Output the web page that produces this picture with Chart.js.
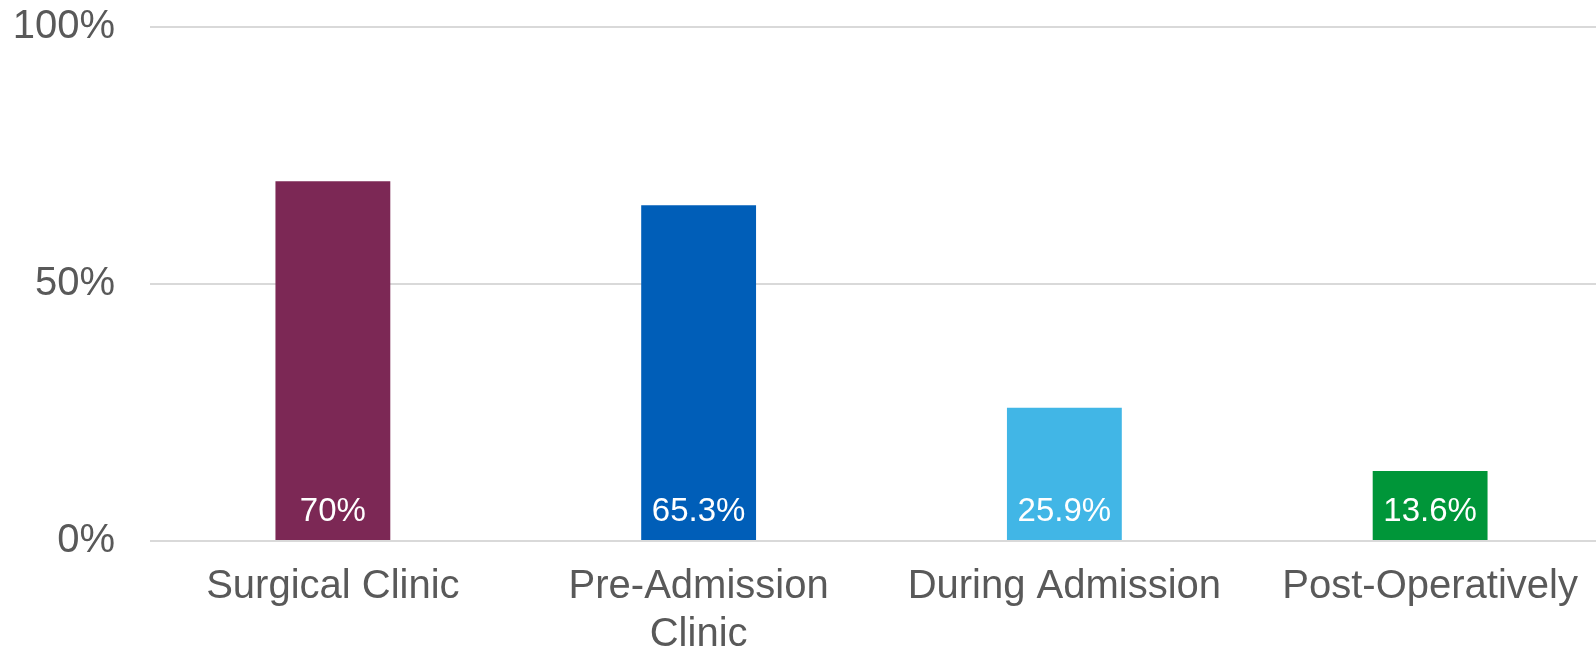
<!DOCTYPE html>
<html>
<head>
<meta charset="utf-8">
<script src="https://cdn.jsdelivr.net/npm/chart.js@4/dist/chart.umd.min.js"></script>
<style>
    html, body { margin: 0; padding: 0; background: #fff; overflow: hidden; }
    #wrap { width: 1613px; height: 652px; position: relative; }
</style>
</head>
<body>
<div id="wrap"><canvas id="chart"></canvas></div>
<script>
const categories = ['Surgical Clinic', ['Pre-Admission', 'Clinic'], 'During Admission', 'Post-Operatively'];
const values = [70, 65.3, 25.9, 13.6];
const barColors = ['#7C2855', '#005EB8', '#41B6E6', '#009639'];
const yTicks = [0, 50, 100];

// draws the white value labels near the base of each bar
const valueLabels = {
    id: 'valueLabels',
    afterDatasetsDraw(chart) {
        const ctx = chart.ctx;
        const meta = chart.getDatasetMeta(0);
        ctx.save();
        ctx.font = '33px "Liberation Sans", Arial, sans-serif';
        ctx.fillStyle = '#ffffff';
        ctx.textAlign = 'center';
        ctx.textBaseline = 'middle';
        meta.data.forEach((bar, i) => {
            ctx.fillText(values[i] + '%', bar.x, bar.base - 28);
        });
        ctx.restore();
    }
};

new Chart(document.getElementById('chart'), {
    type: 'bar',
    data: {
        labels: categories,
        datasets: [{
            data: values,
            backgroundColor: barColors,
            barPercentage: 0.314,
            categoryPercentage: 1
        }]
    },
    options: {
        responsive: true,
        maintainAspectRatio: false,
        animation: false,
        layout: { padding: { top: 27, right: 0, left: 0, bottom: 0 } },
        plugins: { legend: { display: false }, tooltip: { enabled: false } },
        scales: {
            x: {
                grid: { display: false },
                border: { display: false },
                ticks: {
                    color: '#595959',
                    font: { family: '"Liberation Sans", Arial, sans-serif', size: 40 },
                    padding: 14,
                    maxRotation: 0,
                    autoSkip: false
                },
                afterFit: s => { s.height = 111; s.paddingLeft = 0; s.paddingRight = 0; }
            },
            y: {
                min: 0,
                max: 100,
                afterBuildTicks: s => { s.ticks = yTicks.map(v => ({ value: v })); },
                grid: { color: '#d9d9d9', lineWidth: 2, drawTicks: false },
                border: { display: false },
                ticks: {
                    color: '#595959',
                    font: { family: '"Liberation Sans", Arial, sans-serif', size: 40 },
                    padding: 35,
                    callback: v => v + '%'
                },
                afterFit: s => { s.width = 150; s.paddingTop = 0; s.paddingBottom = 0; }
            }
        }
    },
    plugins: [valueLabels]
});
</script>
</body>
</html>
